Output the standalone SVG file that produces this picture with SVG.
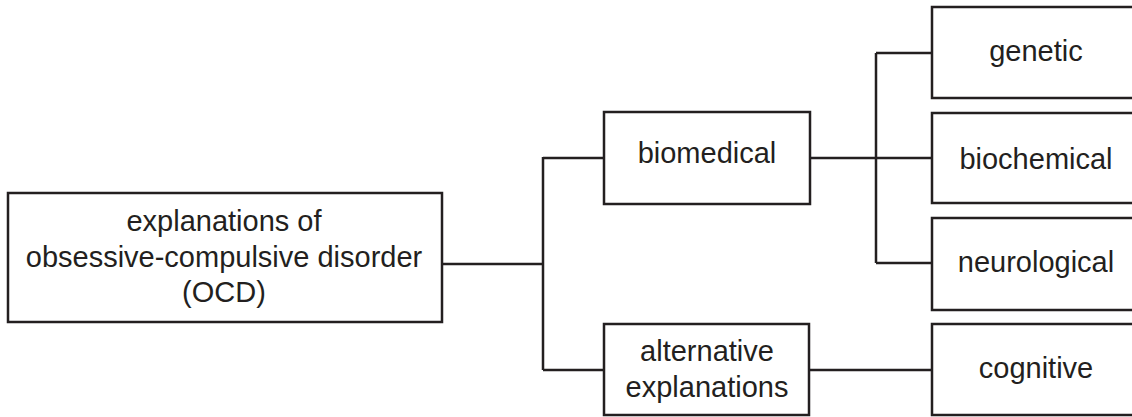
<svg xmlns="http://www.w3.org/2000/svg" width="1132" height="417" viewBox="0 0 1132 417">
<style>
.box{fill:#fff;stroke:#231f20;stroke-width:2.5}
.t{font-family:"Liberation Sans",Arial,sans-serif;font-size:29px;fill:#231f20;text-anchor:middle}
.c{fill:none;stroke:#231f20;stroke-width:2.5}
</style>
<rect width="1132" height="417" fill="#fff"/>
<g id="connectors">
<path class="c" d="M442 264H543M543 157V370M543 158H604M543 370H604"/>
<path class="c" d="M810 158H932M876 53V263M876 53H932M876 263H932M810 370H932"/>
</g>
<g id="root"><rect class="box" x="8" y="193" width="434" height="129"/>
<text class="t" x="224" y="231">explanations of</text>
<text class="t" x="224" y="267">obsessive-compulsive disorder</text>
<text class="t" x="224" y="302">(OCD)</text></g>
<g id="biomedical"><rect class="box" x="604" y="112" width="206" height="92"/>
<text class="t" x="707" y="163">biomedical</text></g>
<g id="alternative"><rect class="box" x="604" y="324" width="205" height="91"/>
<text class="t" x="707" y="361">alternative</text>
<text class="t" x="707" y="397">explanations</text></g>
<g id="genetic"><rect class="box" x="932" y="7" width="208" height="91"/>
<text class="t" x="1036" y="61">genetic</text></g>
<g id="biochemical"><rect class="box" x="932" y="113" width="208" height="90"/>
<text class="t" x="1036" y="169">biochemical</text></g>
<g id="neurological"><rect class="box" x="932" y="218" width="208" height="92"/>
<text class="t" x="1036" y="272">neurological</text></g>
<g id="cognitive"><rect class="box" x="932" y="324" width="208" height="91"/>
<text class="t" x="1036" y="378">cognitive</text></g>
</svg>
